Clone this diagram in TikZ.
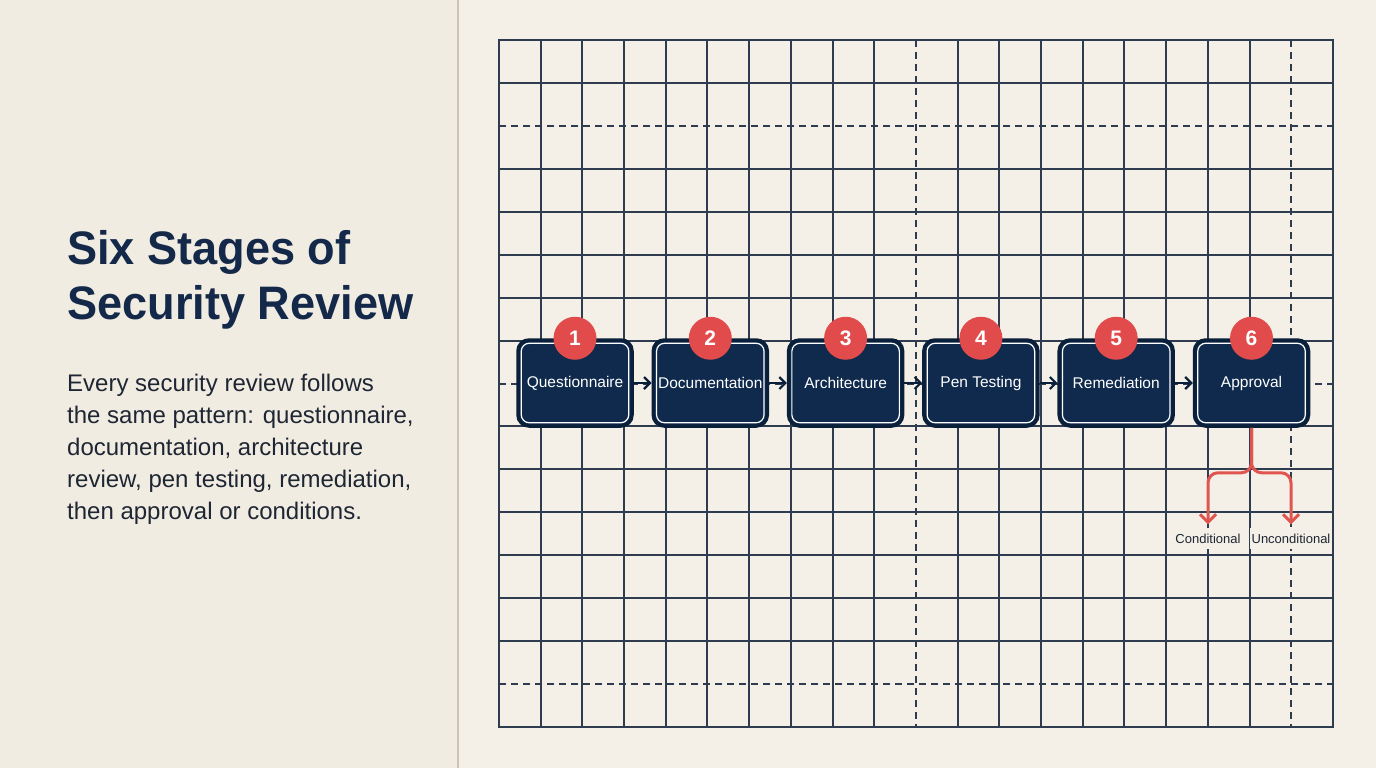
\documentclass[tikz,border=0pt]{standalone}
\usepackage{fontspec}
\setmainfont{Liberation Sans}
\newfontfamily\titlefont{Liberation Sans}[FakeStretch=0.96]
\usetikzlibrary{arrows.meta}
\definecolor{bgL}{HTML}{F1ECE2}
\definecolor{bgR}{HTML}{F4F0E7}
\definecolor{divider}{HTML}{CCC4B6}
\definecolor{gridc}{HTML}{2F3C4F}
\definecolor{navy}{HTML}{0F2A4C}
\definecolor{navyedge}{HTML}{0A1F3A}
\definecolor{badge}{HTML}{E14B4B}
\definecolor{redline}{HTML}{E05550}
\definecolor{titlec}{HTML}{14294A}
\definecolor{bodyc}{HTML}{1E2633}
\tikzset{
  gridline/.style={gridc, line width=1.5pt},
  griddash/.style={gridc, line width=1.5pt, dash pattern=on 7pt off 5pt},
  stagebox/.style={rounded corners=11pt, minimum width=114pt, minimum height=86pt,
    fill=navy, draw=navyedge, line width=3.5pt, text=white, inner sep=0pt,
    font=\fontsize{15.5}{18}\selectfont},
  innerline/.style={white, line width=1.2pt, rounded corners=8pt},
  badgenode/.style={circle, fill=badge, minimum size=43pt, inner sep=0pt, text=white,
    font=\bfseries\fontsize{21}{24}\selectfont},
  flow/.style={navyedge, line width=2.2pt, -{Straight Barb[length=6pt,width=12pt]}},
  branch/.style={redline, line width=3pt, rounded corners=10pt, shorten >=3pt,
    -{Straight Barb[length=8pt,width=16pt]}},
  outlabel/.style={inner xsep=2pt, inner ysep=6pt, fill=bgR, text=bodyc,
    font=\fontsize{13}{15}\selectfont}
}
\begin{document}
\begin{tikzpicture}[x=1pt,y=-1pt]
\useasboundingbox (0,0) rectangle (1376,768);
\fill[bgL] (0,0) rectangle (458,768);
\fill[bgR] (458,0) rectangle (1376,768);
\draw[divider, line width=2.5pt] (458,0) -- (458,768);

% grid
\foreach \i in {1,...,9,11,12,...,18}{
  \pgfmathsetmacro{\gx}{round(499+\i*41.7)}
  \draw[gridline] (\gx,40) -- (\gx,727);
}
\foreach \i in {10,19}{
  \pgfmathsetmacro{\gx}{round(499+\i*41.7)}
  \draw[griddash] (\gx,40) -- (\gx,727);
}
\foreach \j in {1,3,4,5,6,7,9,10,11,12,13,14}{
  \pgfmathsetmacro{\gy}{round(40+\j*42.9375)}
  \draw[gridline] (499,\gy) -- (1333,\gy);
}
\foreach \j in {2,8,15}{
  \pgfmathsetmacro{\gy}{round(40+\j*42.9375)}
  \draw[griddash] (499,\gy) -- (1333,\gy);
}
\draw[gridline] (499,40) rectangle (1333,727);

% left text
\node[anchor=north west, inner sep=0pt, align=left, text=titlec,
  font=\titlefont\bfseries\fontsize{47}{55}\selectfont] (title) at (67,230)
  {Six Stages of\\Security Review};
\node[anchor=north west, inner sep=0pt, align=left, text=bodyc,
  font=\fontsize{24}{32}\selectfont] (body) at (67,374)
  {Every security review follows\\the same pattern: questionnaire,\\documentation, architecture\\review, pen testing, remediation,\\then approval or conditions.};

% stages
\foreach \k/\name/\lab in {0/b1/Questionnaire,1/b2/Documentation,2/b3/Architecture,3/b4/Pen Testing,4/b5/Remediation,5/b6/Approval}{
  \node[stagebox] (\name) at ({575+\k*135.3},383) {\lab};
  \draw[innerline] ([shift={(5,5)}]\name.north west) rectangle ([shift={(-5,-5)}]\name.south east);
  \pgfmathtruncatemacro{\num}{\k+1}
  \node[badgenode] (n\name) at (\name.north) {\num};
}
\draw[flow] (b1.east) -- (b2.west);
\draw[flow] (b2.east) -- (b3.west);
\draw[flow] (b3.east) -- (b4.west);
\draw[flow] (b4.east) -- (b5.west);
\draw[flow] (b5.east) -- (b6.west);

% outcomes
\node[outlabel, anchor=base] (cond) at (1208,543) {Conditional};
\node[outlabel, anchor=base] (uncond) at (1291,543) {Unconditional};
\draw[branch] (b6.south) -- ++(0,45) -| (cond.north);
\draw[branch] (b6.south) -- ++(0,45) -| (uncond.north);
\end{tikzpicture}
\end{document}
